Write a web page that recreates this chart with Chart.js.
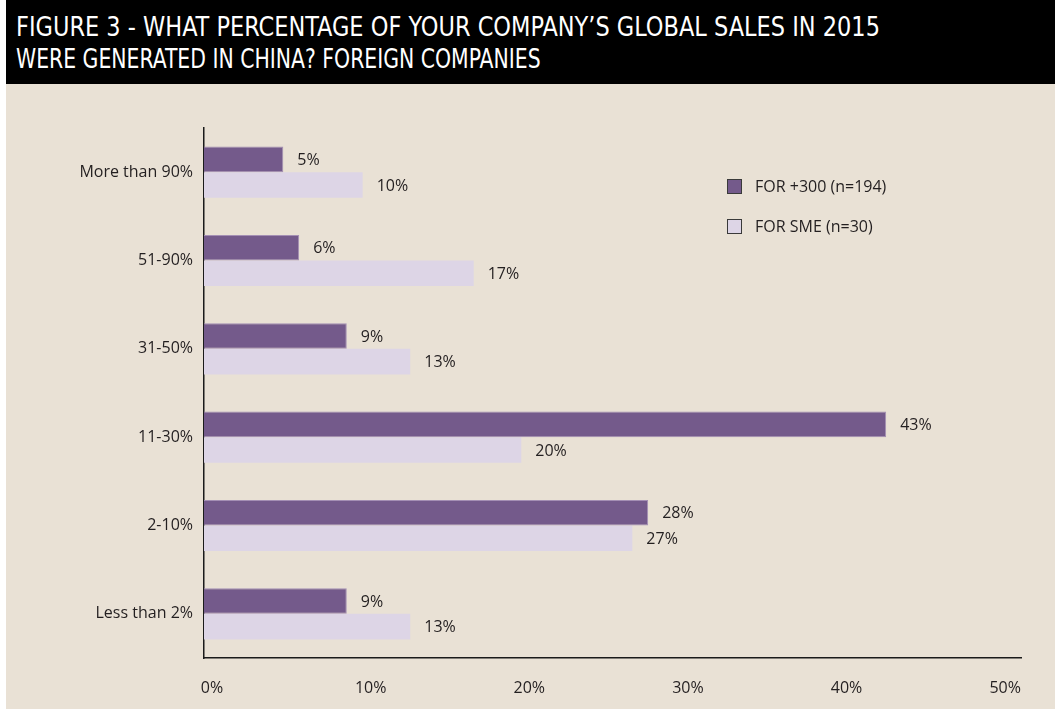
<!DOCTYPE html>
<html>
<head>
<meta charset="utf-8">
<script src="https://cdn.jsdelivr.net/npm/chart.js@4"></script>
<style>
	html, body { margin: 0; padding: 0; background: #fff; }
	#fig { position: absolute; left: 6px; top: 0; width: 1049px; height: 709px; background: #e9e1d5; }
	#head { position: absolute; left: 0; top: 0; width: 1049px; height: 84px; background: #000; }
	#head div { position: absolute; left: 10px; color: #fff; font-family: 'Liberation Sans Narrow', 'DejaVu Sans', sans-serif; font-stretch: condensed; font-size: 27px; line-height: 30px; white-space: nowrap; transform-origin: 0 0; }
	#wrap { position: absolute; left: 0; top: 84px; width: 1049px; height: 625px; }
</style>
</head>
<body>
<div id="fig">
	<div id="head">
		<div id="t1" style="top:12px">FIGURE 3 - WHAT PERCENTAGE OF YOUR COMPANY’S GLOBAL SALES IN 2015</div>
		<div id="t2" style="top:44px">WERE GENERATED IN CHINA? FOREIGN COMPANIES</div>
	</div>
	<div id="wrap"><canvas id="barChart"></canvas></div>
</div>
<script>
const categories = ['More than 90%', '51-90%', '31-50%', '11-30%', '2-10%', 'Less than 2%'];
const seriesNames = ['FOR +300 (n=194)', 'FOR SME (n=30)'];
const for300 = [5, 6, 9, 43, 28, 9];
const forSme = [10, 17, 13, 20, 27, 13];
const xTicks = [0, 10, 20, 30, 40, 50];

const FONT = "'Open Sans', sans-serif";
const TEXT = '#231f20';

// fit header lines to the widths seen in the picture
function fitLine(id, w) {
	const el = document.getElementById(id);
	el.style.transform = 'scaleX(' + (w / el.offsetWidth) + ')';
}
fitLine('t1', 864);
fitLine('t2', 525);

const valueLabels = {
	id: 'valueLabels',
	afterDatasetsDraw(chart) {
		const ctx = chart.ctx;
		ctx.save();
		ctx.font = '16px ' + FONT;
		ctx.fillStyle = TEXT;
		ctx.textAlign = 'left';
		ctx.textBaseline = 'middle';
		chart.data.datasets.forEach((ds, i) => {
			chart.getDatasetMeta(i).data.forEach((bar, j) => {
				ctx.fillText(ds.data[j] + '%', bar.x + 14, bar.y + 1);
			});
		});
		ctx.restore();
	}
};

const boxLegend = {
	id: 'boxLegend',
	afterDraw(chart) {
		const ctx = chart.ctx;
		ctx.save();
		ctx.font = '16px ' + FONT;
		ctx.textBaseline = 'middle';
		chart.data.datasets.forEach((ds, i) => {
			const x = 721, y = 95 + i * 40;
			ctx.fillStyle = ds.backgroundColor;
			ctx.fillRect(x, y, 15, 15);
			ctx.strokeStyle = '#3a3a3a';
			ctx.lineWidth = 1;
			ctx.strokeRect(x + 0.5, y + 0.5, 14, 14);
			ctx.fillStyle = TEXT;
			ctx.fillText(ds.label, x + 28, y + 8);
		});
		ctx.restore();
	}
};

// eslint-disable-next-line no-undef
new Chart(document.getElementById('barChart').getContext('2d'), {
	type: 'bar',
	data: {
		labels: categories,
		datasets: [{
			label: seriesNames[0],
			data: for300,
			backgroundColor: '#745a8b',
			borderColor: '#a48fb4',
			borderWidth: 1
		}, {
			label: seriesNames[1],
			data: forSme,
			backgroundColor: '#ddd5e6',
			borderColor: '#ddd5e6',
			borderWidth: 0
		}]
	},
	options: {
		indexAxis: 'y',
		responsive: true,
		maintainAspectRatio: false,
		animation: false,
		layout: { padding: { top: 44, right: 34, left: 0, bottom: 0 } },
		datasets: { bar: { categoryPercentage: 0.58, barPercentage: 1 } },
		scales: {
			x: {
				min: 0,
				max: 51.5,
				afterBuildTicks: axis => { axis.ticks = xTicks.map(v => ({ value: v })); },
				afterFit: axis => { axis.height = 51; },
				grid: { display: false, drawTicks: false },
				border: { display: true, color: '#1a1a1a', width: 1.5 },
				ticks: {
					padding: 21,
					labelOffset: 8,
					color: TEXT,
					font: { family: FONT, size: 16 },
					callback: v => v + '%'
				}
			},
			y: {
				afterFit: axis => { axis.width = 198; },
				grid: { display: false, drawTicks: false },
				border: { display: true, color: '#1a1a1a', width: 1.5 },
				ticks: {
					padding: 11,
					color: TEXT,
					font: { family: FONT, size: 16 }
				}
			}
		},
		plugins: {
			legend: { display: false },
			tooltip: { enabled: false }
		}
	},
	plugins: [valueLabels, boxLegend]
});
</script>
</body>
</html>
